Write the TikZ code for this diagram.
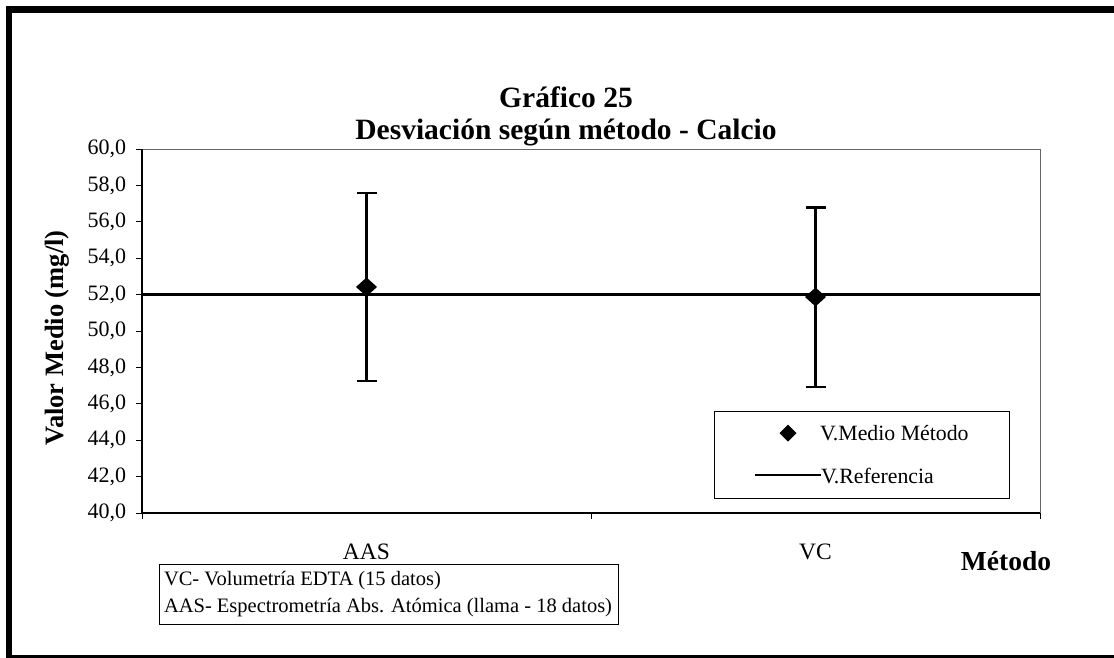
\documentclass[tikz,border=0pt]{standalone}
\usepackage{fontspec}
\setmainfont{Liberation Serif}
\usetikzlibrary{positioning,shapes.geometric}

\begin{document}
\begin{tikzpicture}[
    x=1pt, y=-1pt,
    every node/.style={inner sep=0pt, outer sep=0pt},
    ticklabel/.style={font=\fontsize{22}{22}\selectfont, anchor=east},
    catlabel/.style={font=\fontsize{23.5}{23.5}\selectfont, anchor=base},
    legendtext/.style={font=\fontsize{21.8}{21.8}\selectfont, anchor=base west},
    notetext/.style={font=\fontsize{20.5}{20.5}\selectfont, anchor=base west},
    errbar/.style={line width=2.6pt},
    refline/.style={line width=2.8pt},
    meanmark/.style={diamond, fill=black, minimum width=21pt, minimum height=19pt}
  ]
  \useasboundingbox (0,0) rectangle (1114,657);

  % outer frame
  \draw[line width=6.5pt] (9,9.5) rectangle (1140,658);

  % titles
  \node[font=\bfseries\fontsize{29.5}{29.5}\selectfont, anchor=base] (title) at (566,107) {Gráfico 25};
  \node[font=\bfseries\fontsize{29.5}{29.5}\selectfont, anchor=base] (subtitle) at (566,139) {Desviación según método - Calcio};

  % plot area
  \draw[black!60, line width=1pt] (142,149) -- (1040,149) -- (1040,513);

  \begin{scope}[shift={(142,1241)}, x=449pt, y=18.2pt]
    % axes
    \draw[line width=1.2pt] (0,60) -- (0,40) -- (2,40);
    \foreach \v in {40,42,...,60}
      \draw[line width=1pt] (0,\v) -- ++(-6pt,0pt) node[ticklabel, xshift=-10pt] {\v,0};
    \foreach \c in {0,1,2}
      \draw[line width=1pt] (\c,40) -- ++(0pt,-6pt);

    % categories
    \node[catlabel, yshift=-46pt] (aas) at (0.5,40) {AAS};
    \node[catlabel, yshift=-46pt] (vc) at (1.5,40) {VC};

    % reference value
    \coordinate (refstart) at (0,52.0);
    \coordinate (refend) at (2,52.0);
    \draw[refline] (refstart) -- (refend);

    % AAS error bar
    \coordinate (aastop) at (0.5,57.58);
    \coordinate (aasbot) at (0.5,47.25);
    \draw[errbar] (aasbot) -- (aastop);
    \draw[errbar] ([xshift=-10pt]aastop) -- ([xshift=10pt]aastop);
    \draw[errbar] ([xshift=-10pt]aasbot) -- ([xshift=10pt]aasbot);
    \node[meanmark] (aasmean) at (0.5,52.42) {};

    % VC error bar
    \coordinate (vctop) at (1.5,56.8);
    \coordinate (vcbot) at (1.5,46.92);
    \draw[errbar] (vcbot) -- (vctop);
    \draw[errbar] ([xshift=-10pt]vctop) -- ([xshift=10pt]vctop);
    \draw[errbar] ([xshift=-10pt]vcbot) -- ([xshift=10pt]vcbot);
    \node[meanmark] (vcmean) at (1.5,51.87) {};
  \end{scope}

  % axis titles
  \node[font=\bfseries\fontsize{26.5}{26.5}\selectfont, anchor=base, rotate=90] (ylabel) at (63,338) {Valor Medio (mg/l)};
  \node[font=\bfseries\fontsize{27.5}{27.5}\selectfont, anchor=base] (xlabel) at (1006,570) {Método};

  % legend
  \draw[line width=1pt] (714,411) rectangle (1009,498);
  \node[meanmark, minimum width=17pt, minimum height=17pt] (legmark) at (788,433) {};
  \node[legendtext] (legmean) at (820,440) {V.Medio Método};
  \coordinate (legline) at (755,475);
  \node[legendtext] (legref) at (821,483) {V.Referencia};
  \draw[refline] (legline) -- (legref.west |- legline);

  % note box
  \draw[line width=1pt] (159,564) rectangle (618,624);
  \node[notetext] (notevc) at (164,585) {VC- Volumetría EDTA (15 datos)};
  \node[notetext] (noteaas) at (164,612) {AAS- Espectrometría Abs. Atómica (llama - 18 datos)};
\end{tikzpicture}
\end{document}
